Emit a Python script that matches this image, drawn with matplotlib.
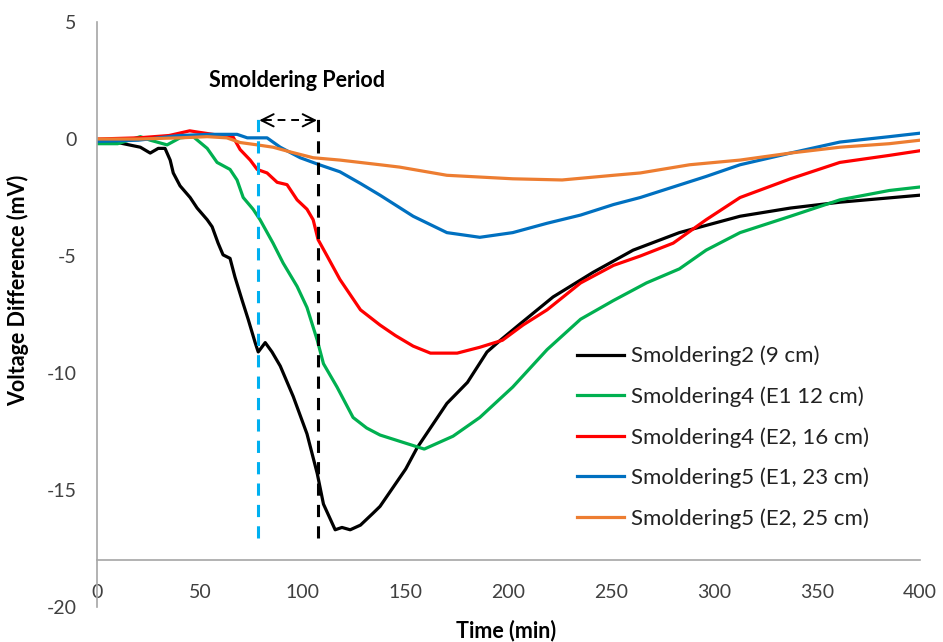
import numpy as np
import matplotlib
matplotlib.use("Agg")
import matplotlib.pyplot as plt

plt.rcParams['font.family'] = ['Lato', 'DejaVu Sans']
plt.rcParams['axes.unicode_minus'] = False

# Smoldering2 (9 cm)
t_black = [0, 10, 21, 25.8, 29.7, 33, 35.5, 37, 40.3, 45.2, 48.6, 53.5, 55.9, 58.8, 61.2,
           64.6, 67, 70.5, 73.4, 76.8, 78.3, 81.7, 85, 89, 95.3, 102, 107, 110, 115.7,
           119, 123, 128, 134, 137.5, 150, 155.5, 170, 180, 189.5, 196, 205.6, 221.6, 241,
           260.5, 283, 312.5, 337, 361, 400]
v_black = [-0.1, -0.15, -0.35, -0.6, -0.4, -0.4, -0.9, -1.45, -2.0, -2.5, -2.95, -3.45,
           -3.75, -4.45, -4.95, -5.1, -5.9, -6.9, -7.7, -8.7, -9.1, -8.7, -9.1, -9.7, -11.0,
           -12.6, -14.3, -15.6, -16.7, -16.6, -16.7, -16.5, -16.0, -15.7, -14.1, -13.2,
           -11.3, -10.4, -9.1, -8.6, -7.9, -6.75, -5.7, -4.75, -4.0, -3.3, -2.95, -2.7, -2.4]

# Smoldering4 (E1 12 cm)
t_green = [0, 10, 21, 25.8, 34, 40.3, 46.7, 53.5, 58.3, 64.6, 68, 71, 75.8, 79.2, 85.5,
           90.4, 97.2, 102, 107, 110, 116.6, 124.4, 131, 137.5, 150, 159, 173, 186, 202,
           218.7, 235, 251, 267, 283, 296, 312.5, 337, 361, 385, 400]
v_green = [-0.2, -0.2, 0.1, -0.05, -0.25, 0.05, 0.1, -0.4, -1.0, -1.3, -1.75, -2.5, -3.0,
           -3.45, -4.45, -5.3, -6.3, -7.2, -8.6, -9.6, -10.6, -11.9, -12.35, -12.65, -13.0,
           -13.25, -12.7, -11.9, -10.6, -9.0, -7.7, -6.9, -6.15, -5.55, -4.75, -4.0, -3.3,
           -2.6, -2.2, -2.05]

# Smoldering4 (E2, 16 cm)
t_red = [0, 20, 35, 45, 48.6, 60, 66, 69.5, 74.4, 77.8, 82.6, 87.5, 92.3, 97.2, 102, 105,
         107.4, 111.8, 118, 128, 137.5, 145, 153.6, 162, 175, 186, 197, 207, 218.7, 235,
         251, 264, 280, 296, 312.5, 337, 361, 385, 400]
v_red = [0, 0.05, 0.15, 0.35, 0.3, 0.15, 0.1, -0.45, -0.9, -1.3, -1.45, -1.85, -1.95, -2.6,
         -3.0, -3.45, -4.3, -5.0, -6.0, -7.3, -7.95, -8.4, -8.85, -9.15, -9.15, -8.9, -8.6,
         -7.95, -7.3, -6.15, -5.4, -5.0, -4.45, -3.45, -2.5, -1.7, -1.0, -0.7, -0.5]

# Smoldering5 (E1, 23 cm)
t_blue = [0, 20, 40, 55, 68, 73, 82.6, 89, 98.7, 108, 118, 128, 137.5, 153.6, 170, 186,
          202, 218.7, 235, 251, 264, 280, 296, 312.5, 337, 361, 385, 400]
v_blue = [-0.1, -0.05, 0.15, 0.2, 0.2, 0.05, 0.05, -0.35, -0.8, -1.1, -1.4, -1.9, -2.4,
          -3.3, -4.0, -4.2, -4.0, -3.6, -3.25, -2.8, -2.5, -2.05, -1.6, -1.1, -0.6, -0.13,
          0.1, 0.25]

# Smoldering5 (E2, 25 cm)
t_orange = [0, 20, 40, 53.5, 63, 69.5, 77.8, 85.5, 93.8, 105, 118, 137.5, 147, 170, 202,
            226, 251, 264, 288, 312.5, 337, 361, 385, 400]
v_orange = [0, 0.0, 0.05, 0.1, 0.05, -0.15, -0.25, -0.35, -0.55, -0.8, -0.9, -1.1, -1.2,
            -1.55, -1.7, -1.75, -1.55, -1.45, -1.1, -0.9, -0.6, -0.35, -0.2, -0.05]

labels = ["Smoldering2 (9 cm)", "Smoldering4 (E1 12 cm)", "Smoldering4 (E2, 16 cm)",
          "Smoldering5 (E1, 23 cm)", "Smoldering5 (E2, 25 cm)"]
colors = ["#000000", "#00B050", "#FF0000", "#0070C0", "#ED7D31"]

t_start = 78.3
t_end = 107.4

fig = plt.figure(figsize=(9.43, 6.42), dpi=100)
ax = fig.add_axes([0.103, 0.0545, 0.8727, 0.9112])

series = [(t_black, v_black), (t_green, v_green), (t_red, v_red),
          (t_blue, v_blue), (t_orange, v_orange)]
for (t, v), c, lab in zip(series, colors, labels):
    ax.plot(t, v, color=c, lw=2.3, label=lab)

ax.plot([t_start, t_start], [-17.05, 1.0], color="#00B0F0", lw=2.2, ls=(0, (4, 3)))
ax.plot([t_end, t_end], [-17.05, 1.0], color="black", lw=2.2, ls=(0, (4, 3)))

# dashed double arrow
ax.plot([t_start + 3, t_end - 3], [0.8, 0.8], color="black", lw=1.4, ls=(0, (4, 3)))
ax.annotate('', xy=(t_start + 0.5, 0.8), xytext=(t_start + 4, 0.8),
            arrowprops=dict(arrowstyle='->', lw=1.4, color='black', mutation_scale=22,
                            shrinkA=0, shrinkB=0))
ax.annotate('', xy=(t_end - 0.5, 0.8), xytext=(t_end - 4, 0.8),
            arrowprops=dict(arrowstyle='->', lw=1.4, color='black', mutation_scale=22,
                            shrinkA=0, shrinkB=0))
ax.text(97.2, 2.5, "Smoldering Period", fontsize=15.5, fontweight='bold',
        ha='center', va='center')

ax.set_xlim(0, 400)
ax.set_ylim(-20, 5)
ax.set_xticks(np.arange(0, 401, 50))
ax.set_yticks(np.arange(-20, 6, 5))

for s in ['top', 'right']:
    ax.spines[s].set_visible(False)
ax.spines['bottom'].set_position(('data', -18))
ax.spines['bottom'].set_color('#A6A6A6')
ax.spines['left'].set_color('#A6A6A6')
ax.spines['bottom'].set_linewidth(1.2)
ax.spines['left'].set_linewidth(1.2)

ax.tick_params(axis='x', length=0, pad=17, labelsize=14, colors='#404040')
ax.tick_params(axis='y', length=0, pad=15, labelsize=14, colors='#404040')

ax.set_xlabel("Time (min)", fontsize=15.5, fontweight='bold')
ax.set_ylabel("Voltage Difference (mV)", fontsize=15.5, fontweight='bold')
ax.xaxis.set_label_coords(0.497, -0.021)
ax.yaxis.set_label_coords(-0.083, 0.542)

leg = ax.legend(loc='upper left', bbox_to_anchor=(0.583, 0.4465), frameon=False,
                borderpad=0, borderaxespad=0,
                fontsize=16, handlelength=2.1, handletextpad=0.32, labelspacing=0.9,
                labelcolor='#222222')

fig.savefig("out.png", dpi=100)
